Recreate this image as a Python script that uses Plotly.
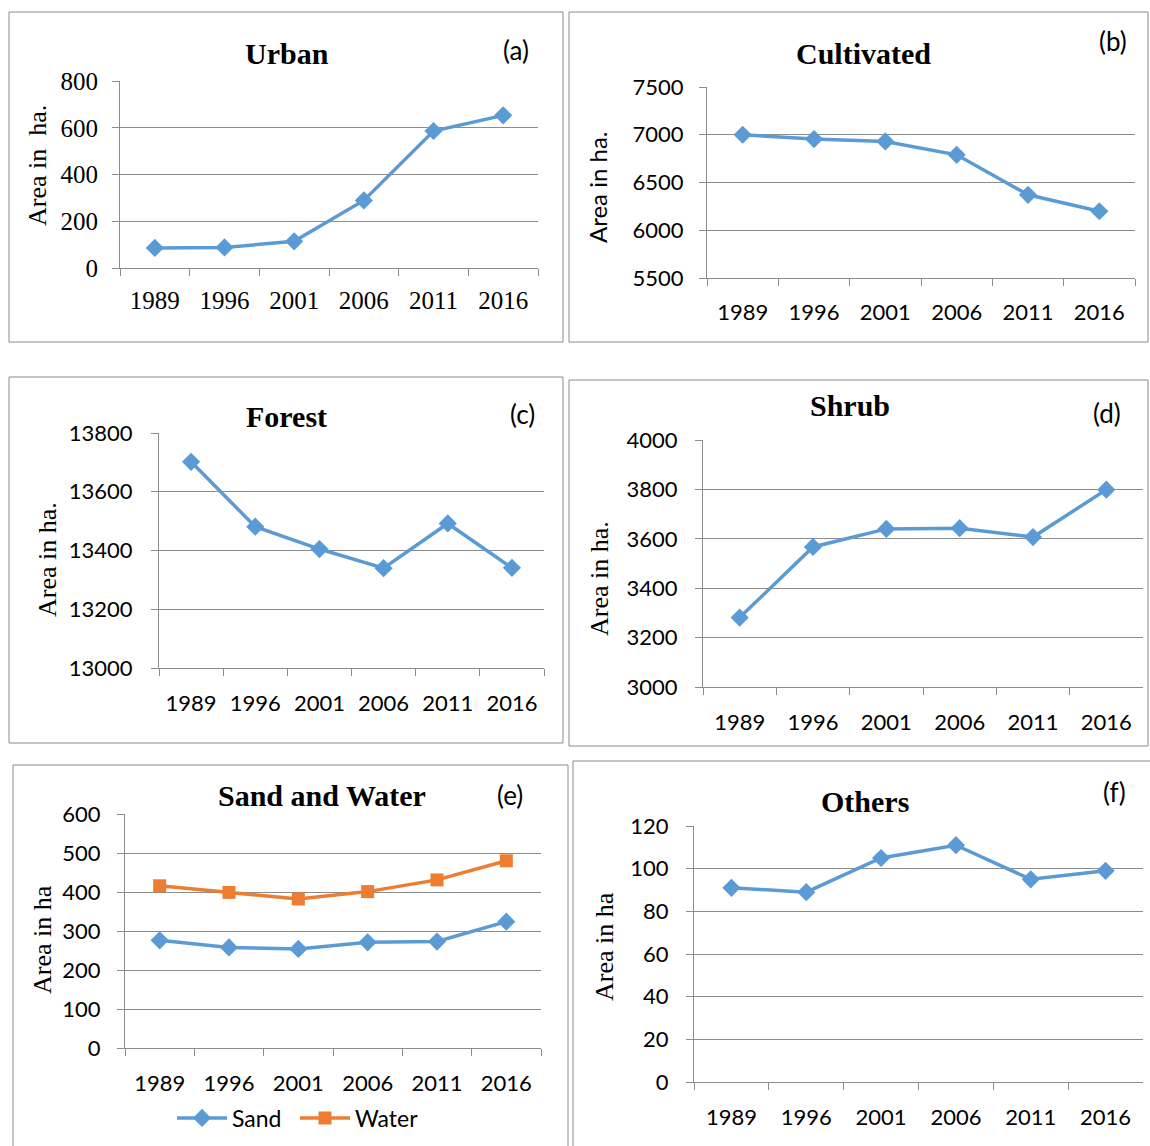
import plotly.graph_objects as go

W, H = 1150, 1146

years = ['1989', '1996', '2001', '2006', '2011', '2016']
urban = [86, 88, 114, 289, 586, 653]
cultivated = [7000, 6955, 6930, 6790, 6371, 6199]
forest = [13702, 13481, 13405, 13340, 13492, 13341]
shrub = [3281, 3567, 3640, 3643, 3607, 3799]
sand = [276, 258, 254, 271, 273, 324]
water = [416, 399, 382, 401, 431, 480]
others = [91, 89, 105, 111, 95, 99]

titles = ['Urban', 'Cultivated', 'Forest', 'Shrub', 'Sand and Water', 'Others']
letters = ['(a)', '(b)', '(c)', '(d)', '(e)', '(f)']
ytitles = ['Area in  ha.', 'Area in ha.', 'Area in ha.', 'Area in ha.', 'Area in ha', 'Area in ha']
y_ranges = [[0, 800], [5500, 7500], [13000, 13800], [3000, 4000], [0, 600], [0, 120]]
y_dticks = [200, 500, 200, 200, 100, 20]

BLUE = '#5B9BD5'
ORANGE = '#ED7D31'
GRID = '#8c8c8c'
BORDER = '#8a8a8a'
SERIF = 'Liberation Serif'
SANS = 'Lato'

# layout geometry in pixels
panels = [
    dict(plot=(120, 538, 81, 268), box=(9, 12, 563, 342), title=(287, 53), lab=(516, 50),
         yt=(38, 166), ytfont=SERIF, tickfont=SERIF, ystand=9, xstand=10),
    dict(plot=(707, 1135, 87, 278), box=(569, 12, 1148, 342), title=(864, 53), lab=(1113, 41),
         yt=(597, 188), ytfont=SANS, tickfont=SANS, ystand=11, xstand=15),
    dict(plot=(159, 544, 433, 668), box=(9, 377, 563, 743), title=(286, 417), lab=(522, 414),
         yt=(47, 560), ytfont=SERIF, tickfont=SANS, ystand=14, xstand=16),
    dict(plot=(703, 1143, 440, 687), box=(569, 380, 1148, 746), title=(850, 405), lab=(1107, 413),
         yt=(600, 579), ytfont=SERIF, tickfont=SANS, ystand=13, xstand=16),
    dict(plot=(125, 541, 814, 1048), box=(13, 765, 568, 1150), title=(322, 795), lab=(510, 795),
         yt=(42, 940), ytfont=SERIF, tickfont=SANS, ystand=12, xstand=16),
    dict(plot=(694, 1143, 826, 1082), box=(573, 761, 1152, 1150), title=(865, 801), lab=(1114, 792),
         yt=(604, 947), ytfont=SERIF, tickfont=SANS, ystand=13, xstand=16),
]

def px(x):
    return x / W

def py(y):
    return 1 - y / H

series = [
    [('Urban', urban, BLUE, 'diamond')],
    [('Cultivated', cultivated, BLUE, 'diamond')],
    [('Forest', forest, BLUE, 'diamond')],
    [('Shrub', shrub, BLUE, 'diamond')],
    [('Sand', sand, BLUE, 'diamond'), ('Water', water, ORANGE, 'square')],
    [('Others', others, BLUE, 'diamond')],
]

fig = go.Figure()
layout = dict(
    width=W, height=H, margin=dict(l=0, r=0, t=0, b=0, autoexpand=False),
    paper_bgcolor='white', plot_bgcolor='white',
    shapes=[], annotations=[],
)

for i, p in enumerate(panels):
    n = '' if i == 0 else str(i + 1)
    x0, x1, yt_, yb_ = p['plot']
    fsize = 25 if p['tickfont'] == SERIF else 22
    layout['xaxis' + n] = dict(
        domain=[px(x0), px(x1)], anchor='y' + n, type='category',
        range=[-0.5, 5.5], showline=True, linecolor=GRID, linewidth=1,
        ticks='outside', tickson='boundaries', ticklen=7, tickcolor=GRID,
        showgrid=False, zeroline=False, fixedrange=True, automargin=False,
        tickfont=dict(family=p['tickfont'], size=fsize, color='black'),
        ticklabelstandoff=p['xstand'],
    )
    layout['yaxis' + n] = dict(
        domain=[py(yb_), py(yt_)], anchor='x' + n, range=y_ranges[i],
        dtick=y_dticks[i], tick0=0, tickformat='d', showline=True, linecolor=GRID, linewidth=1,
        ticks='outside', ticklen=7, tickcolor=GRID, showgrid=True,
        gridcolor=GRID, gridwidth=1, zeroline=False, fixedrange=True, automargin=False,
        tickfont=dict(family=p['tickfont'], size=fsize, color='black'),
        ticklabelstandoff=p['ystand'],
    )
    for name, vals, col, sym in series[i]:
        fig.add_trace(go.Scatter(
            x=years, y=vals, name=name, mode='lines+markers',
            xaxis='x' + n, yaxis='y' + n,
            line=dict(color=col, width=3.5),
            marker=dict(symbol=sym, size=14 if sym == 'diamond' else 13, color=col),
            showlegend=(i == 4),
        ))
    bx0, by0, bx1, by1 = p['box']
    layout['shapes'].append(dict(
        type='rect', xref='paper', yref='paper',
        x0=px(bx0), x1=px(bx1), y0=py(by1), y1=py(by0),
        line=dict(color=BORDER, width=1), fillcolor='rgba(0,0,0,0)', layer='below',
    ))
    layout['annotations'].append(dict(
        text='<b>' + titles[i] + '</b>', xref='paper', yref='paper',
        x=px(p['title'][0]), y=py(p['title'][1]), xanchor='center', yanchor='middle',
        showarrow=False, font=dict(family=SERIF, size=30, color='black'),
    ))
    layout['annotations'].append(dict(
        text=letters[i], xref='paper', yref='paper',
        x=px(p['lab'][0]), y=py(p['lab'][1]), xanchor='center', yanchor='middle',
        showarrow=False, font=dict(family=SANS, size=26, color='black'),
    ))
    layout['annotations'].append(dict(
        text=ytitles[i], xref='paper', yref='paper', textangle=-90,
        x=px(p['yt'][0]), y=py(p['yt'][1]), xanchor='center', yanchor='middle',
        showarrow=False,
        font=dict(family=p['ytfont'], size=26 if p['ytfont'] == SERIF else 24, color='black'),
    ))

layout['legend'] = dict(
    orientation='h', x=px(172), y=py(1118), xanchor='left', yanchor='middle',
    font=dict(family=SANS, size=23, color='black'), bgcolor='rgba(0,0,0,0)',
    itemwidth=50, tracegroupgap=0, entrywidth=58, entrywidthmode='pixels',
)

fig.update_layout(**layout)
fig.write_html('out.html', config={'displayModeBar': False},
               post_script="document.body.style.margin='0';document.body.style.overflow='hidden';")
